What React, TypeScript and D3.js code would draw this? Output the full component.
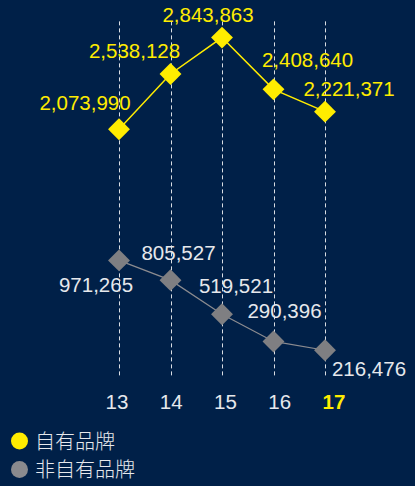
import React, { useEffect, useRef } from 'react';
import * as d3 from 'd3';

// year labels ('13 .. '17)
const categories = ['13', '14', '15', '16', '17'];
const ownBrand = [2073990, 2538128, 2843863, 2408640, 2221371];
const otherBrand = [971265, 805527, 519521, 290396, 216476];
const legendLabels = ['自有品牌', '非自有品牌'];

// hand-placed label offsets relative to each marker [dx, dy]
const ownLabelOffset = [[-34, -19], [-36, -16], [-14, -16], [34, -22], [24, -16]];
const otherLabelOffset = [[-23, 32], [8, -20], [14, -21], [11, -23], [44, 26]];

const W = 415;
const H = 486;
const BG = '#002048';
const YELLOW = '#ffec00';
const GREY = '#7f7f82';
const FONT = "'Liberation Sans', Arial, sans-serif";

export default function App() {
  const svgRef = useRef<SVGSVGElement>(null);

  useEffect(() => {
    document.body.style.margin = '0';
    if (!svgRef.current) return;
    const svg = d3.select(svgRef.current);
    svg.selectAll('*').remove();

    svg.append('rect').attr('width', W).attr('height', H).attr('fill', BG);

    const x = d3.scalePoint<string>().domain(categories).range([119, 325]);
    const xLabel = d3.scalePoint<string>().domain(categories).range([117, 334]);
    const y = d3.scaleLinear().domain([0, 3000000]).range([376, 19]);

    // dashed guides
    svg.append('g')
      .selectAll('line')
      .data(categories)
      .enter()
      .append('line')
      .attr('x1', d => Math.round(x(d)!) + 0.5)
      .attr('x2', d => Math.round(x(d)!) + 0.5)
      .attr('y1', y(2980000))
      .attr('y2', y(0))
      .attr('stroke', 'rgba(255,255,255,0.85)')
      .attr('stroke-width', 1)
      .attr('stroke-dasharray', '4,3');

    const diamond = d3.symbol().type(d3.symbolSquare).size(240);

    const drawSeries = (values: number[], color: string, lineColor: string, lw: number,
      textColor: string, offsets: number[][]) => {
      const line = d3.line<number>()
        .x((_, i) => x(categories[i])!)
        .y(d => y(d));
      svg.append('path')
        .datum(values)
        .attr('d', line)
        .attr('fill', 'none')
        .attr('stroke', lineColor)
        .attr('stroke-width', lw);

      svg.append('g')
        .selectAll('path')
        .data(values)
        .enter()
        .append('path')
        .attr('d', diamond()!)
        .attr('transform', (d, i) => `translate(${x(categories[i])},${y(d)}) rotate(45)`)
        .attr('fill', color);

      svg.append('g')
        .selectAll('text')
        .data(values)
        .enter()
        .append('text')
        .attr('x', (_, i) => x(categories[i])! + offsets[i][0])
        .attr('y', (d, i) => y(d) + offsets[i][1])
        .attr('text-anchor', 'middle')
        .attr('font-family', FONT)
        .attr('font-size', 20.5)
        .attr('fill', textColor)
        .text(d => d3.format(',')(d));
    };

    drawSeries(ownBrand, YELLOW, YELLOW, 1.5, YELLOW, ownLabelOffset);
    drawSeries(otherBrand, GREY, '#8c8c90', 1.2, '#e6e8ec', otherLabelOffset);

    // x tick labels
    svg.append('g')
      .selectAll('text')
      .data(categories)
      .enter()
      .append('text')
      .attr('x', d => xLabel(d)!)
      .attr('y', 409)
      .attr('text-anchor', 'middle')
      .attr('font-family', FONT)
      .attr('font-size', 20.5)
      .attr('font-weight', (_, i) => (i === categories.length - 1 ? 'bold' : 'normal'))
      .attr('fill', (_, i) => (i === categories.length - 1 ? YELLOW : '#e6e8ec'))
      .text(d => d);

    // legend
    const legendColors = [YELLOW, '#8a8a8e'];
    const lg = svg.append('g')
      .selectAll('g')
      .data(legendLabels)
      .enter()
      .append('g')
      .attr('transform', (_, i) => `translate(0,${441 + i * 28.5})`);
    lg.append('circle')
      .attr('cx', 19.5)
      .attr('cy', 0)
      .attr('r', 8.5)
      .attr('fill', (_, i) => legendColors[i]);
    lg.append('text')
      .attr('x', 35)
      .attr('y', 7.5)
      .attr('font-family', "'Noto Sans CJK SC', sans-serif")
      .attr('font-weight', 300)
      .attr('font-size', 20)
      .attr('fill', '#e6e8ec')
      .text(d => d);
  }, []);

  return <svg ref={svgRef} width={W} height={H} style={{ display: 'block' }} />;
}
